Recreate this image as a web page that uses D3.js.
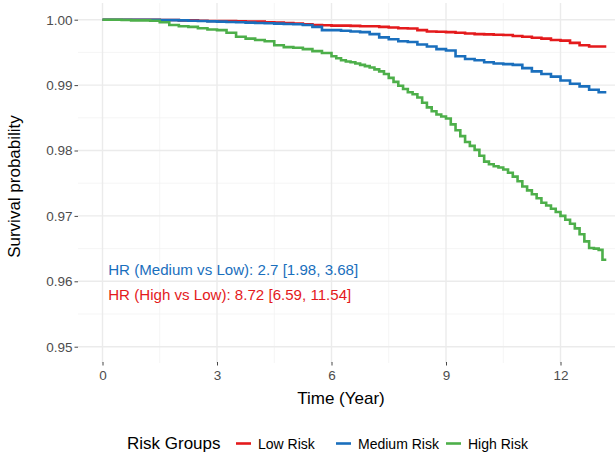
<!DOCTYPE html>
<html>
<head>
<meta charset="utf-8">
<script src="https://cdn.jsdelivr.net/npm/d3@7"></script>
<style>
  body { margin: 0; background: #fff; }
  svg { display: block; font-family: "Liberation Sans", Arial, sans-serif; }
</style>
</head>
<body>
<svg id="chart-svg" width="615" height="455"></svg>
<script>
// Kaplan-Meier style survival
const years = [0, 0.25, 0.5, 0.75, 1, 1.25, 1.5, 1.75, 2, 2.25, 2.5, 2.75, 3, 3.25, 3.5, 3.75,
  4, 4.25, 4.5, 4.75, 5, 5.25, 5.5, 5.75, 6, 6.25, 6.5, 6.75, 7, 7.25, 7.5, 7.75,
  8, 8.25, 8.5, 8.75, 9, 9.25, 9.5, 9.75, 10, 10.25, 10.5, 10.75, 11, 11.25, 11.5, 11.75,
  12, 12.25, 12.5, 12.75, 13, 13.1, 13.2];

const lowRisk = [1, 1, 1, 1, 1, 1, 0.99995, 0.99995, 0.9999, 0.9999, 0.99985, 0.9998, 0.9998, 0.99978, 0.99975, 0.9997,
  0.9997, 0.9996, 0.99955, 0.9995, 0.9994, 0.9993, 0.9992, 0.99915, 0.9991, 0.9991, 0.99905, 0.999, 0.999, 0.9989, 0.9988, 0.9987,
  0.99865, 0.9984, 0.9982, 0.99815, 0.9981, 0.998, 0.9979, 0.9978, 0.99775, 0.9977, 0.99765, 0.9975, 0.9974, 0.99725, 0.9971, 0.9969,
  0.9968, 0.99645, 0.9961, 0.9959, 0.9959, 0.9959, 0.9959];

const mediumRisk = [1, 1, 1, 1, 1, 1, 0.99995, 0.99993, 0.9999, 0.99985, 0.9998, 0.99975, 0.9997, 0.99965, 0.9996, 0.99955,
  0.9995, 0.99945, 0.9994, 0.99935, 0.9993, 0.9992, 0.9989, 0.9984, 0.9984, 0.9983, 0.9982, 0.9981, 0.9978, 0.9973, 0.997, 0.9967,
  0.9966, 0.9962, 0.9959, 0.9955, 0.9953, 0.9944, 0.994, 0.9938, 0.9935, 0.9933, 0.9932, 0.9931, 0.9926, 0.9921, 0.9917, 0.9913,
  0.9907, 0.9902, 0.9898, 0.9893, 0.9889, 0.9889, 0.9889];

// high risk drops faster, so it gets a finer time grid
const highYears = [0, 0.25, 0.5, 0.75, 1, 1.25, 1.5, 1.75, 2, 2.25, 2.5, 2.75, 3, 3.25, 3.5, 3.75,
  4, 4.25, 4.5, 4.75, 5, 5.25, 5.5, 5.75,
  6, 6.125, 6.25, 6.375, 6.5, 6.625, 6.75, 6.875, 7, 7.125, 7.25, 7.375, 7.5, 7.625, 7.75, 7.875,
  8, 8.125, 8.25, 8.375, 8.5, 8.625, 8.75, 8.875, 9, 9.125, 9.25, 9.375, 9.5, 9.625, 9.75, 9.875,
  10, 10.125, 10.25, 10.375, 10.5, 10.625, 10.75, 10.875, 11, 11.125, 11.25, 11.375, 11.5, 11.625, 11.75, 11.875,
  12, 12.125, 12.25, 12.375, 12.5, 12.625, 12.75, 12.875, 13, 13.1, 13.2];

const highRisk = [1, 1, 0.99995, 0.9999, 0.9999, 0.99985, 0.9996, 0.9992, 0.999, 0.9989, 0.9987, 0.9985, 0.9984, 0.998, 0.9974, 0.9971,
  0.9969, 0.9967, 0.9961, 0.9958, 0.9957, 0.9955, 0.9952, 0.9949,
  0.9944, 0.9941, 0.9938, 0.9936, 0.9935, 0.9933, 0.9931, 0.9929, 0.9927, 0.9924, 0.9921, 0.9917, 0.9911, 0.9905, 0.9899, 0.9894,
  0.9889, 0.9886, 0.9881, 0.9873, 0.9866, 0.986, 0.9855, 0.9852, 0.9849, 0.984, 0.9831, 0.9822, 0.9813, 0.9807, 0.9801, 0.9792,
  0.9783, 0.9779, 0.9776, 0.9774, 0.9771, 0.9766, 0.976, 0.9753, 0.9745, 0.9739, 0.9733, 0.9727, 0.972, 0.9716, 0.9711, 0.9706,
  0.97, 0.9694, 0.9688, 0.9681, 0.9672, 0.9661, 0.9651, 0.965, 0.9648, 0.9633, 0.9633];

const groups = ["Low Risk", "Medium Risk", "High Risk"];
const groupColours = ["#E41A1C", "#1A6FBD", "#4DAF4A"];

const xTicks = [0, 3, 6, 9, 12];
const xMinor = [1.5, 4.5, 7.5, 10.5];
const yTicks = [0.95, 0.96, 0.97, 0.98, 0.99, 1.00];
const yMinor = [0.955, 0.965, 0.975, 0.985, 0.995];

const hrLabels = ["HR (Medium vs Low): 2.7 [1.98, 3.68]", "HR (High vs Low): 8.72 [6.59, 11.54]"];
const hrColours = ["#1A6FBD", "#E41A1C"];
const hrY = [0.9617, 0.958];

/**
 * Render the whole chart
 */
function renderGraph() {

  const svg = d3.select("#chart-svg");

  const panel = { left: 78, right: 615, top: 3, bottom: 363 };

  const x = d3.scaleLinear().domain([0, 12]).range([102.5, 560.5]);
  const y = d3.scaleLinear().domain([0.95, 1.0]).range([346.7, 19.7]);

  const grid = svg.append("g").attr("class", "grid");

  // minor grid
  grid.selectAll(".hminor").data(yMinor).enter().append("line")
    .attr("x1", panel.left).attr("x2", panel.right)
    .attr("y1", d => y(d)).attr("y2", d => y(d))
    .attr("stroke", "#f3f3f3").attr("stroke-width", 0.8);
  grid.selectAll(".vminor").data(xMinor).enter().append("line")
    .attr("x1", d => x(d)).attr("x2", d => x(d))
    .attr("y1", panel.top).attr("y2", panel.bottom)
    .attr("stroke", "#f3f3f3").attr("stroke-width", 0.8);

  // major grid
  grid.selectAll(".hmajor").data(yTicks).enter().append("line")
    .attr("x1", panel.left).attr("x2", panel.right)
    .attr("y1", d => y(d)).attr("y2", d => y(d))
    .attr("stroke", "#ebebeb").attr("stroke-width", 1.4);
  grid.selectAll(".vmajor").data(xTicks).enter().append("line")
    .attr("x1", d => x(d)).attr("x2", d => x(d))
    .attr("y1", panel.top).attr("y2", panel.bottom)
    .attr("stroke", "#ebebeb").attr("stroke-width", 1.4);

  // axes
  const xAxis = d3.axisBottom(x).tickValues(xTicks).tickSize(3.5).tickPadding(5).tickFormat(d3.format("d"));
  const yAxis = d3.axisLeft(y).tickValues(yTicks).tickSize(3.5).tickPadding(2).tickFormat(d3.format(".2f"));

  const gx = svg.append("g").attr("transform", "translate(0," + (panel.bottom - 1) + ")").call(xAxis);
  const gy = svg.append("g").attr("transform", "translate(" + panel.left + ",0)").call(yAxis);

  [gx, gy].forEach(g => {
    g.select(".domain").remove();
    g.selectAll(".tick line").attr("stroke", "#333").attr("stroke-width", 0.9);
    g.selectAll(".tick text")
      .attr("fill", "#4d4d4d")
      .style("font-size", "13.5px")
      .style("font-family", "'Liberation Sans', Arial, sans-serif");
  });

  // axis titles
  svg.append("text")
    .attr("x", 341).attr("y", 404)
    .attr("text-anchor", "middle")
    .style("font-size", "17px")
    .text("Time (Year)");

  svg.append("text")
    .attr("transform", "translate(20,186.5) rotate(-90)")
    .attr("text-anchor", "middle")
    .style("font-size", "17px")
    .text("Survival probability");

  // survival curves
  const series = [
    years.map((t, i) => [t, lowRisk[i]]),
    years.map((t, i) => [t, mediumRisk[i]]),
    highYears.map((t, i) => [t, highRisk[i]])
  ];
  const line = d3.line()
    .x(d => x(d[0]))
    .y(d => y(d[1]))
    .curve(d3.curveStepAfter);

  svg.append("g").selectAll("path")
    .data(series)
    .enter().append("path")
    .attr("d", line)
    .attr("fill", "none")
    .attr("stroke", (s, i) => groupColours[i])
    .attr("stroke-width", 2.6)
    .attr("stroke-linejoin", "miter");

  // hazard ratio annotations
  svg.append("g").selectAll("text")
    .data(hrLabels)
    .enter().append("text")
    .attr("x", x(0.15))
    .attr("y", (d, i) => y(hrY[i]))
    .attr("dy", "0.35em")
    .attr("fill", (d, i) => hrColours[i])
    .style("font-size", "15.1px")
    .text(d => d);

  renderLegend(svg);
}

/**
 * Legend along the bottom
 */
function renderLegend(svg) {

  const legend = svg.append("g").attr("class", "legend");
  const keyX = [236, 336, 446];

  legend.append("text")
    .attr("x", 127).attr("y", 448.5)
    .style("font-size", "17px")
    .text("Risk Groups");

  const items = legend.selectAll(".item")
    .data(groups)
    .enter().append("g")
    .attr("transform", (d, i) => "translate(" + keyX[i] + ",0)");

  items.append("line")
    .attr("x1", 0).attr("x2", 15)
    .attr("y1", 443.5).attr("y2", 443.5)
    .attr("stroke", (d, i) => groupColours[i])
    .attr("stroke-width", 2.6);

  items.append("text")
    .attr("x", 22).attr("y", 448.5)
    .style("font-size", "14px")
    .text(d => d);
}

renderGraph();
</script>
</body>
</html>
